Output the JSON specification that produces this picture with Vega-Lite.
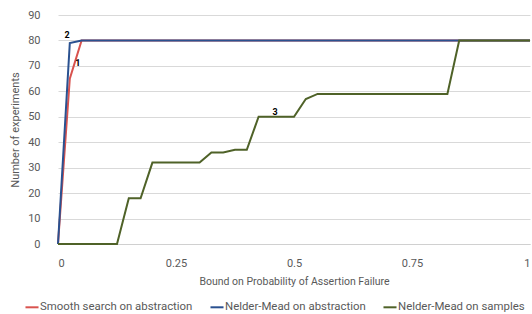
{
  "$schema": "https://vega.github.io/schema/vega-lite/v6.json",
  "width": 472,
  "height": 229,
  "autosize": "none",
  "padding": {"left": 58, "top": 15, "right": 2, "bottom": 70},
  "background": "white",
  "config": {
    "view": {"stroke": null},
    "font": "Roboto",
    "axis": {"labelColor": "#595959", "titleColor": "#595959", "labelFont": "Roboto", "titleFont": "Roboto", "labelFontSize": 11, "titleFontSize": 10.5, "titleFontWeight": "normal", "gridColor": "#d9d9d9", "domainColor": "#d0d0d0", "ticks": false, "labelOverlap": false}
  },
  "datasets": {
    "lines": [
      {"series": "Smooth search on abstraction", "x": 0, "y": 0},
      {"series": "Smooth search on abstraction", "x": 0.025, "y": 65},
      {"series": "Smooth search on abstraction", "x": 0.05, "y": 80},
      {"series": "Smooth search on abstraction", "x": 1, "y": 80},
      {"series": "Nelder-Mead on abstraction", "x": 0, "y": 0},
      {"series": "Nelder-Mead on abstraction", "x": 0.025, "y": 79},
      {"series": "Nelder-Mead on abstraction", "x": 0.05, "y": 80},
      {"series": "Nelder-Mead on abstraction", "x": 1, "y": 80},
      {"series": "Nelder-Mead on samples", "x": 0, "y": 0},
      {"series": "Nelder-Mead on samples", "x": 0.125, "y": 0},
      {"series": "Nelder-Mead on samples", "x": 0.15, "y": 18},
      {"series": "Nelder-Mead on samples", "x": 0.175, "y": 18},
      {"series": "Nelder-Mead on samples", "x": 0.2, "y": 32},
      {"series": "Nelder-Mead on samples", "x": 0.3, "y": 32},
      {"series": "Nelder-Mead on samples", "x": 0.325, "y": 36},
      {"series": "Nelder-Mead on samples", "x": 0.35, "y": 36},
      {"series": "Nelder-Mead on samples", "x": 0.375, "y": 37},
      {"series": "Nelder-Mead on samples", "x": 0.4, "y": 37},
      {"series": "Nelder-Mead on samples", "x": 0.425, "y": 50},
      {"series": "Nelder-Mead on samples", "x": 0.5, "y": 50},
      {"series": "Nelder-Mead on samples", "x": 0.525, "y": 57},
      {"series": "Nelder-Mead on samples", "x": 0.55, "y": 59},
      {"series": "Nelder-Mead on samples", "x": 0.825, "y": 59},
      {"series": "Nelder-Mead on samples", "x": 0.85, "y": 80},
      {"series": "Nelder-Mead on samples", "x": 1, "y": 80}
    ],
    "labels": [
      {"label": "1", "x": 0.042, "y": 71},
      {"label": "2", "x": 0.019, "y": 82},
      {"label": "3", "x": 0.46, "y": 52}
    ]
  },
  "encoding": {
    "x": {"field": "x", "type": "quantitative", "scale": {"domain": [0, 1], "nice": false}, "axis": {"values": [0, 0.25, 0.5, 0.75, 1], "labelExpr": "format(datum.value, '~g')", "title": "Bound on Probability of Assertion Failure", "grid": false, "labelPadding": 13, "titlePadding": 8}},
    "y": {"field": "y", "type": "quantitative", "scale": {"domain": [0, 90], "nice": false}, "axis": {"values": [0,10,20,30,40,50,60,70,80,90], "labelExpr": "format(datum.value, 'd')", "title": "Number of experiments", "titleFontSize": 11, "domain": false, "labelPadding": 18, "titlePadding": 7}}
  },
  "layer": [
    {
      "data": {"name": "lines"},
      "mark": {"type": "line", "strokeWidth": 2},
      "encoding": {
        "color": {"field": "series", "type": "nominal", "sort": ["Smooth search on abstraction", "Nelder-Mead on abstraction", "Nelder-Mead on samples"],
          "scale": {"domain": ["Smooth search on abstraction", "Nelder-Mead on abstraction", "Nelder-Mead on samples"], "range": ["#d9534f", "#2a5190", "#4f6228"]},
          "legend": {"title": null, "orient": "none", "legendX": -34, "legendY": 284, "direction": "horizontal", "symbolType": "stroke", "symbolStrokeWidth": 2, "symbolSize": 170, "labelFont": "Roboto", "labelFontSize": 11.4, "labelColor": "#595959", "columnPadding": 13, "labelOffset": 0}},
        "order": {"field": "series", "sort": "descending"}
      }
    },
    {
      "data": {"name": "labels"},
      "mark": {"type": "text", "fontSize": 9, "fontWeight": "bold", "color": "#000000"},
      "encoding": {
        "text": {"field": "label"}
      }
    }
  ]
}
